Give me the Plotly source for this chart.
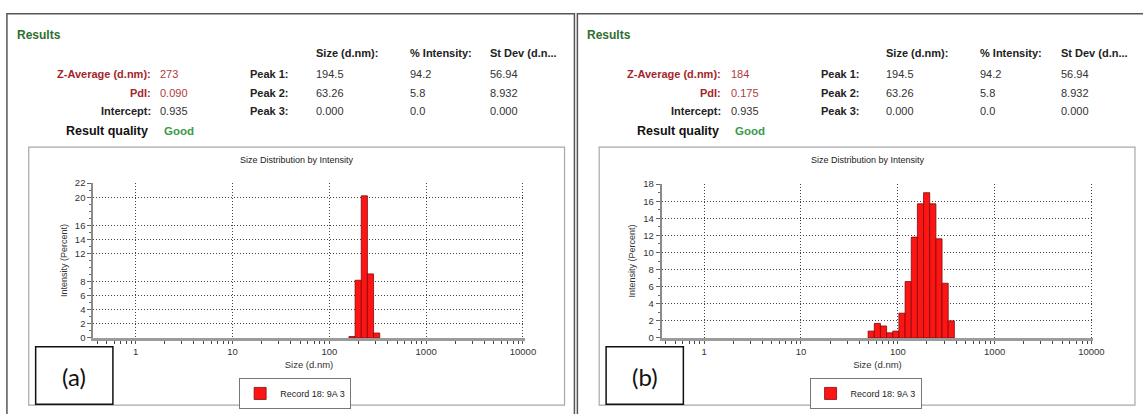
import numpy as np
import plotly.graph_objects as go

W, H = 1143, 414
FONT = "Liberation Sans, Arial, sans-serif"

# ---------------- data ----------------
sizes_a = [171.5, 198.6, 229.9, 266.2, 308.2]
intensity_a = [0.2, 8.2, 20.2, 9.1, 0.7]

sizes_b = [53.12, 61.50, 71.21, 82.45, 95.47, 110.5, 128.0, 148.1,
           171.5, 198.6, 229.9, 266.2, 308.2, 356.8]
intensity_b = [0.8, 1.7, 1.4, 0.6, 0.8, 2.9, 6.6, 11.8,
               15.7, 17.0, 15.7, 11.6, 6.4, 2.0]

x_tick_sizes = [1, 10, 100, 1000, 10000]
x_tick_labels = ["1", "10", "100", "1000", "10000"]
y_ticks_a = [0, 2, 4, 6, 8, 12, 14, 16, 20, 22]
y_ticks_b = [0, 2, 4, 6, 8, 10, 12, 14, 16, 18]

record_name = "Record 18: 9A 3"
panel_tags = ["(a)", "(b)"]
plot_title = "Size Distribution by Intensity"
x_title = "Size (d.nm)"
y_title = "Intensity (Percent)"

summary_labels = ["Z-Average (d.nm):", "PdI:", "Intercept:"]
summary_a = ["273", "0.090", "0.935"]
summary_b = ["184", "0.175", "0.935"]
peak_labels = ["Peak 1:", "Peak 2:", "Peak 3:"]
peak_columns = ["Size (d.nm):", "% Intensity:", "St Dev (d.n..."]
peaks_a = [["194.5", "94.2", "56.94"], ["63.26", "5.8", "8.932"], ["0.000", "0.0", "0.000"]]
peaks_b = [["194.5", "94.2", "56.94"], ["63.26", "5.8", "8.932"], ["0.000", "0.0", "0.000"]]
quality_label = "Result quality"
quality_value = "Good"


# ---------------- helpers ----------------
def px(x):
    return x / W


def py(y):
    return 1 - y / H


OFFSETS = [0, 576]
minor_x = [np.log10(k * 10.0 ** d) for d in range(-1, 4) for k in range(2, 10)
           if -0.44 < np.log10(k * 10.0 ** d) < 4.02]
DOT = "1px,2px"

fig = go.Figure()


def add_bars(sizes, vals, xa, ya, leg):
    logs = np.log10(sizes)
    width = float(np.median(np.diff(logs)))
    fig.add_trace(go.Bar(
        x=logs, y=vals, width=width, xaxis=xa, yaxis=ya,
        name=record_name, legend=leg, showlegend=True,
        marker=dict(color="#ff1414", line=dict(color="#7a0c0c", width=0.8)),
    ))


add_bars(sizes_a, intensity_a, "x", "y", "legend")
add_bars(sizes_b, intensity_b, "x2", "y2", "legend2")


def x_axis(dom, anchor):
    return dict(
        domain=dom, anchor=anchor, type="linear", range=[-0.44, 4.02],
        tickmode="array", tickvals=list(np.log10(x_tick_sizes)), ticktext=x_tick_labels,
        showgrid=True, gridcolor="#444", griddash=DOT, gridwidth=1,
        showline=True, linecolor="#9b9b9b", linewidth=2.5, zeroline=False,
        ticks="outside", ticklen=3, tickcolor="#555",
        minor=dict(tickmode="array", tickvals=minor_x, ticks="outside", ticklen=3,
                   tickcolor="#444", tickwidth=1, showgrid=False),
        tickfont=dict(family=FONT, size=9.5, color="#333"),
        title=dict(text=x_title, font=dict(family=FONT, size=9.5, color="#333"), standoff=6),
        fixedrange=True,
    )


def y_axis(dom, anchor, rng, ticks):
    return dict(
        domain=dom, anchor=anchor, range=rng, tickmode="array", tickvals=ticks,
        showgrid=True, gridcolor="#444", griddash=DOT, gridwidth=1,
        showline=True, linecolor="#8a8a8a", linewidth=1.5, zeroline=False,
        ticks="outside", ticklen=4, tickcolor="#666",
        minor=dict(dtick=1, tick0=0, ticks="outside", ticklen=2, tickcolor="#666", showgrid=False),
        tickfont=dict(family=FONT, size=9.5, color="#333"),
        title=dict(text=y_title, font=dict(family=FONT, size=9, color="#333"), standoff=6),
        fixedrange=True,
    )


legend_common = dict(
    xanchor="center", yanchor="middle", bgcolor="white", bordercolor="#777",
    borderwidth=1, font=dict(family=FONT, size=9, color="#222"),
    itemwidth=30, tracegroupgap=0,
)

fig.update_layout(
    width=W, height=H, margin=dict(l=0, r=0, t=0, b=0),
    paper_bgcolor="white", plot_bgcolor="white",
    font=dict(family=FONT),
    barmode="overlay",
    xaxis=x_axis([px(94), px(530)], "y"),
    yaxis=y_axis([py(341), py(182)], "x", [0, 22], y_ticks_a),
    xaxis2=x_axis([px(94 + 574), px(530 + 574)], "y2"),
    yaxis2=y_axis([py(341), py(183)], "x2", [0, 18], y_ticks_b),
    legend=dict(x=px(298), y=py(398), **legend_common),
    legend2=dict(x=px(298 + 576), y=py(398), **legend_common),
)

shapes = []
annotations = []


def text(x, y, s, size=11, color="#222", bold=False, anchor="left", family=FONT):
    annotations.append(dict(
        x=px(x), y=py(y), xref="paper", yref="paper", text=f"<b>{s}</b>" if bold else s,
        showarrow=False, xanchor=anchor, yanchor="middle",
        font=dict(family=family, size=size, color=color),
    ))


def rect(x0, y0, x1, y1, color, width, fill="rgba(0,0,0,0)"):
    shapes.append(dict(type="rect", xref="paper", yref="paper",
                       x0=px(x0), x1=px(x1), y0=py(y1), y1=py(y0),
                       line=dict(color=color, width=width), fillcolor=fill, layer="above"))


panels = [(summary_a, peaks_a), (summary_b, peaks_b)]
row_y = [70, 89, 108]
col_x = [317, 412, 493]
for i, (summ, peaks) in enumerate(panels):
    o = OFFSETS[i]
    # frames
    rect(7 + o, 8, 580 + o, 430, "#555", 1.5)
    rect(29 + o, 145, 570 + o, 410, "#a8a8a8", 1.2)
    # header
    text(15 + o, 30, "Results", size=12, color="#2f6f2f", bold=True)
    for cx, ch in zip(col_x, peak_columns):
        text(cx + o, 48, ch, size=11, color="#222", bold=True)
    for r, (lab, val, pl, pv) in enumerate(zip(summary_labels, summ, peak_labels, peaks)):
        red = r < 2
        text(154 + o, row_y[r], lab, size=11, color="#a3262a" if red else "#222",
             bold=True, anchor="right")
        text(160 + o, row_y[r], val, size=11, color="#b13a3a" if red else "#333")
        text(294 + o, row_y[r], pl, size=11, color="#222", bold=True, anchor="right")
        for cx, v in zip(col_x, pv):
            text(cx + o, row_y[r], v, size=11, color="#333")
    text(65 + o, 128, quality_label, size=12.5, color="#111", bold=True)
    text(164 + o, 128, quality_value, size=11.5, color="#3a9a4a", bold=True)
    # plot title
    text(300 + o, 158, plot_title, size=9, color="#222", anchor="center")
    # tag box
    rect(36 + o, 350, 114 + o, 409, "#111", 1.5, fill="white")
    text(75 + o, 381, panel_tags[i], size=24, color="#111", anchor="center", family="Lato, Carlito, sans-serif")

fig.update_layout(shapes=shapes, annotations=annotations)
fig.write_html("out.html", config={"displayModeBar": False},
               post_script="document.body.style.margin='0px';document.body.style.overflow='hidden';")
